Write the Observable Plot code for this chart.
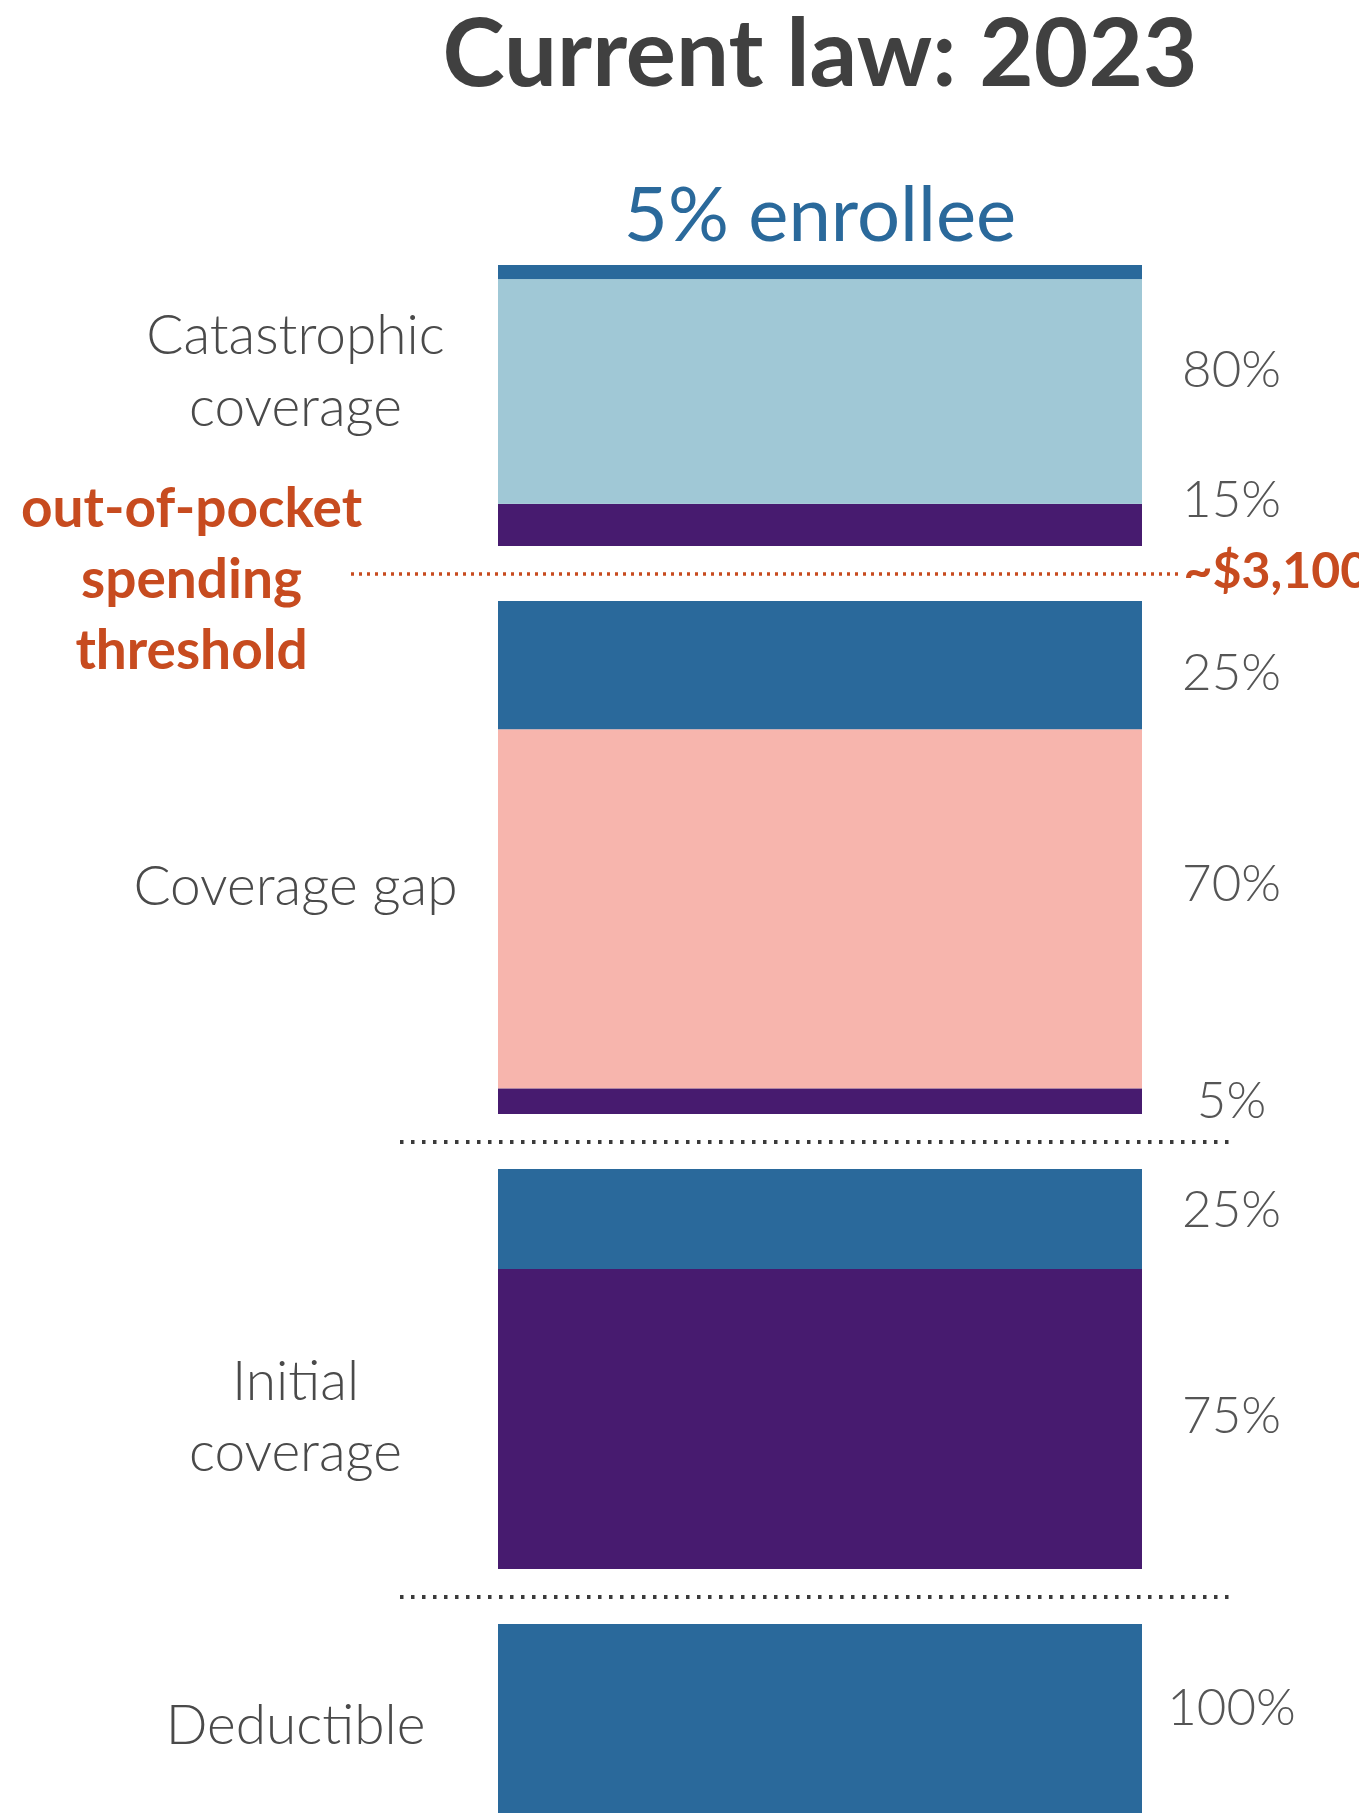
<!DOCTYPE html>
<html>
<head>
<meta charset="utf-8">
<script src="https://cdn.jsdelivr.net/npm/d3@7"></script>
<script src="https://cdn.jsdelivr.net/npm/@observablehq/plot@0.6"></script>
<style>
  html, body { margin: 0; padding: 0; background: #fff; overflow: hidden; }
  body { width: 1359px; height: 1816px; font-family: Lato, "Open Sans", sans-serif; }
  #title { margin-left: 281px; width: 1078px; text-align: center; font-size: 94px; font-weight: 700;
           line-height: 100px; height: 100px; color: #404040; white-space: nowrap; }
  #subtitle { margin-left: 281px; width: 1078px; text-align: center; font-size: 76px; font-weight: 400;
              line-height: 90px; height: 90px; margin-top: 67px; color: #2a699b; white-space: nowrap; }
  #chart svg { display: block; overflow: visible; }
</style>
</head>
<body>
<div id="title"></div>
<div id="subtitle"></div>
<div id="chart"></div>
<script>
// ---- data ----
const titleText = "Current law: 2023";
const subtitleText = "5% enrollee";

const phases = ["Deductible", "Initial coverage", "Coverage gap", "Catastrophic coverage"];
const phaseLabels = ["Deductible", "Initial\ncoverage", "Coverage gap", "Catastrophic\ncoverage"];
// relative drawn length of each phase bar (schematic, bottom → top)
const phaseSpan = [189, 400, 513, 281];

const payers = ["Enrollee", "Plan", "Manufacturer", "Medicare"];
const payerColors = ["#2a699b", "#471b6f", "#f7b5ad", "#a0c8d6"];

// shares of each phase, stacked bottom → top
const deductibleShares = [["Enrollee", 100]];
const initialShares = [["Plan", 75], ["Enrollee", 25]];
const gapShares = [["Plan", 5], ["Manufacturer", 70], ["Enrollee", 25]];
const catastrophicShares = [["Plan", 15], ["Medicare", 80], ["Enrollee", 5]];
const phaseShares = [deductibleShares, initialShares, gapShares, catastrophicShares];
// segments drawn without a percentage label
const unlabeled = [["Catastrophic coverage", "Enrollee"]];

const thresholdName = "out-of-pocket\nspending\nthreshold";
const thresholdValue = "~$3,100";
const thresholdAfter = "Coverage gap"; // threshold sits above this phase

// ---- layout (styling only) ----
const phaseGap = 55;
// small vertical nudges (px) of labels, as placed in the original graphic
const shareNudge = {
  "Deductible|Enrollee": -10,
  "Initial coverage|Enrollee": -9, "Initial coverage|Plan": -3,
  "Coverage gap|Enrollee": 8, "Coverage gap|Manufacturer": -25, "Coverage gap|Plan": 0,
  "Catastrophic coverage|Medicare": -21, "Catastrophic coverage|Plan": -25
};
const phaseNudge = {"Deductible": 2, "Initial coverage": -7, "Coverage gap": -27, "Catastrophic coverage": -25};

document.getElementById("title").textContent = titleText;
document.getElementById("subtitle").textContent = subtitleText;

const segments = [];
const phaseRows = [];
const boundaries = [];
let base = 0;
phases.forEach((phase, i) => {
  let acc = base;
  let biggest = null;
  phaseShares[i].forEach(([payer, share]) => {
    const h = phaseSpan[i] * share / 100;
    const seg = {phase, payer, share, y1: acc, y2: acc + h,
      labelled: !unlabeled.some(([p, q]) => p === phase && q === payer)};
    segments.push(seg);
    if (!biggest || share > biggest.share) biggest = seg;
    acc += h;
  });
  phaseRows.push({phase, label: phaseLabels[i], y: (biggest.y1 + biggest.y2) / 2});
  if (i < phases.length - 1) {
    boundaries.push({y: base + phaseSpan[i] + phaseGap / 2, threshold: phase === thresholdAfter});
  }
  base += phaseSpan[i] + phaseGap;
});
const total = base - phaseGap;
const threshold = boundaries.filter(b => b.threshold);
const plain = boundaries.filter(b => !b.threshold);

const svgTop = 257;
const H = 1816 - svgTop;
const orange = "#c74b1f";

const chart = Plot.plot({
  width: 1359,
  height: H,
  margin: 0,
  style: {fontFamily: "Lato, 'Open Sans', sans-serif", background: "white", overflow: "visible"},
  x: {domain: [0, 1], range: [498, 1142], axis: null},
  y: {domain: [0, total], range: [1813 - svgTop, 265 - svgTop], axis: null},
  color: {domain: payers, range: payerColors},
  marks: [
    Plot.rectY(segments, {x1: () => 0, x2: () => 1, y1: "y1", y2: "y2", fill: "payer"}),
    Plot.ruleY(plain, {y: "y", stroke: "#3a3a3a", strokeWidth: 4, strokeDasharray: "3.5 7.5",
      insetLeft: 400, insetRight: 128}),
    Plot.ruleY(threshold, {y: "y", stroke: orange, strokeWidth: 3.5, strokeDasharray: "3 5",
      insetLeft: 351, insetRight: 181}),
    ...segments.filter(d => d.labelled).map(d => Plot.text([d], {
      x: () => 1, y: d => (d.y1 + d.y2) / 2, text: d => d.share + "%",
      dx: 89, dy: shareNudge[d.phase + "|" + d.payer] || 0,
      textAnchor: "middle", fontSize: 51, fontWeight: 300, fill: "#555"
    })),
    ...phaseRows.map(r => Plot.text([r], {
      x: () => 0, y: "y", text: "label", dx: -203, dy: phaseNudge[r.phase] || 0, textAnchor: "middle",
      fontSize: 55, fontWeight: 300, lineHeight: 1.3, fill: "#4a4a4a"
    })),
    Plot.text(threshold, {
      x: () => 0, y: "y", text: () => thresholdName, dx: -307, dy: 1, textAnchor: "middle",
      fontSize: 55, fontWeight: 700, lineHeight: 1.29, fill: orange
    }),
    Plot.text(threshold, {
      x: () => 1, y: "y", text: () => thresholdValue, dx: 41, dy: -2, textAnchor: "start",
      fontSize: 50, fontWeight: 700, fill: orange
    })
  ]
});
document.getElementById("chart").appendChild(chart);
</script>
</body>
</html>
